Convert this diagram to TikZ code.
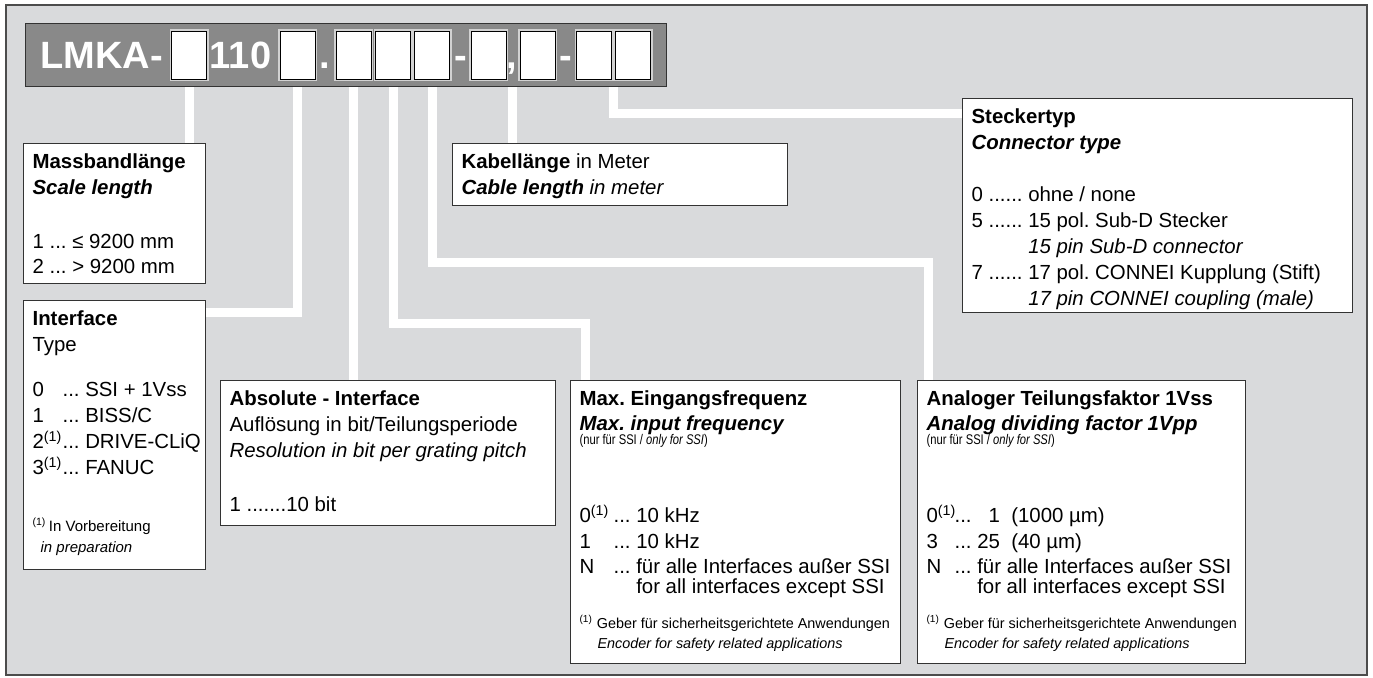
\documentclass[tikz,border=0pt]{standalone}
\usepackage{fontspec}
\setmainfont{Liberation Sans}
\newfontfamily\narrowfont[FakeStretch=0.8]{Liberation Sans}
\usetikzlibrary{calc,backgrounds}
\frenchspacing

\definecolor{panel}{HTML}{D9DADC}
\definecolor{bar}{HTML}{898989}
\definecolor{rim}{HTML}{333333}

\begin{document}
\begin{tikzpicture}[x=0.5pt,y=-0.5pt,
    frame/.style={draw=black!70,fill=panel,line width=0.8pt},
    headbar/.style={draw=rim,fill=bar,line width=0.6pt,inner sep=0pt,anchor=north west},
    digit/.style={draw=black,fill=white,line width=0.5pt,inner sep=0pt,
      minimum width=17.5pt,minimum height=24pt,preaction={draw=gray!35,line width=2pt}},
    code/.style={text=white,font=\fontsize{19}{23}\selectfont\bfseries,inner sep=0pt,anchor=base},
    infobox/.style={draw=rim,fill=white,line width=0.6pt,anchor=north west,
      inner xsep=4.5pt,inner ysep=5pt,font=\fontsize{10.2}{13}\selectfont},
    wire/.style={draw=white,line width=4.5pt}]
  \useasboundingbox (0,0) rectangle (1373,677);

  \node[headbar,minimum width=320.75pt,minimum height=31.5pt] (head) at (24.5,23) {};
  \foreach \n/\x in {1/189,2/297.5,3/353.5,4/393,5/432,6/488.5,7/537.5,8/594,9/633}
    \node[digit] (box\n) at (\x,55) {};
  \node[code,anchor=base west] (lmka) at (40,68) {LMKA-};
  \node[code] (num) at (240.5,68) {110};
  \node[code] (dot) at (324.5,68) {.};
  \node[code] (dash1) at (460.5,68) {-};
  \node[code] (comma) at (512,68) {,};
  \node[code] (dash2) at (565.5,68) {-};
  \coordinate (pin) at ($(box8.south)!.5!(box9.south)$);

  \node[infobox] (scale) at (23,143) {\parbox[t][60pt][t]{82pt}{\raggedright
    \textbf{Massbandlänge}\\
    \textbf{\textit{Scale length}}\\[14pt]
    1 ... ≤ 9200 mm\\[-0.5pt]
    2 ... > 9200 mm}};

  \node[infobox] (iface) at (23,300) {\parbox[t][124.5pt][t]{82pt}{\raggedright
    \textbf{Interface}\\
    Type\\[9.5pt]
    \makebox[15pt][l]{0}\mbox{... SSI + 1Vss}\\
    \makebox[15pt][l]{1}\mbox{... BISS/C}\\
    \makebox[15pt][l]{2\textsuperscript{(1)}}\mbox{... DRIVE-CLiQ}\\
    \makebox[15pt][l]{3\textsuperscript{(1)}}\mbox{... FANUC}\\[15.5pt]
    {\fontsize{7.5}{9}\selectfont\textsuperscript{(1)}\,In Vorbereitung}\\[-2.5pt]
    {\fontsize{7.5}{9}\selectfont\hspace*{4pt}\textit{in preparation}}}};

  \node[infobox] (absint) at (220,380) {\parbox[t][62.5pt][t]{158.5pt}{\raggedright
    \textbf{Absolute - Interface}\\
    Auflösung in bit/Teilungsperiode\\
    \textit{Resolution in bit per grating pitch}\\[14pt]
    1 .......10 bit}};

  \node[infobox] (freq) at (570,380) {\parbox[t][131.5pt][t]{156pt}{\raggedright
    \textbf{Max. Eingangsfrequenz}\\[-0.5pt]
    \textbf{\textit{Max. input frequency}}\\[-6pt]
    {\narrowfont\fontsize{7}{7}\selectfont (nur für SSI / \textit{only for SSI})}\\[26pt]
    \makebox[17pt][l]{0\textsuperscript{(1)}}... 10 kHz\\
    \makebox[17pt][l]{1}... 10 kHz\\[-0.5pt]
    \makebox[17pt][l]{N}\mbox{... für alle Interfaces außer SSI}\\[-3pt]
    \makebox[17pt][l]{}\mbox{\phantom{...} for all interfaces except SSI}\\[4.5pt]
    {\fontsize{7.2}{9}\selectfont\mbox{\textsuperscript{(1)} Geber für sicherheitsgerichtete Anwendungen}}\\[-3pt]
    {\fontsize{7.2}{9}\selectfont\hspace*{9pt}\textit{Encoder for safety related applications}}}};

  \node[infobox] (analog) at (917,380) {\parbox[t][131.5pt][t]{155pt}{\raggedright
    \textbf{Analoger Teilungsfaktor 1Vss}\\[-0.5pt]
    \textbf{\textit{Analog dividing factor 1Vpp}}\\[-6pt]
    {\narrowfont\fontsize{7}{7}\selectfont (nur für SSI / \textit{only for SSI})}\\[26pt]
    \makebox[14pt][l]{0\textsuperscript{(1)}}...\ \phantom{2}1\ \ (1000 µm)\\
    \makebox[14pt][l]{3}...\ 25\ \ (40 µm)\\[-0.5pt]
    \makebox[14pt][l]{N}\mbox{...\ für alle Interfaces außer SSI}\\[-3pt]
    \makebox[14pt][l]{}\mbox{\phantom{...}\ for all interfaces except SSI}\\[4.5pt]
    {\fontsize{7.2}{9}\selectfont\mbox{\textsuperscript{(1)} Geber für sicherheitsgerichtete Anwendungen}}\\[-3pt]
    {\fontsize{7.2}{9}\selectfont\hspace*{9pt}\textit{Encoder for safety related applications}}}};

  \node[infobox] (cable) at (452,143) {\parbox[t][21pt][t]{158.5pt}{\raggedright
    \textbf{Kabellänge} in Meter\\
    \textbf{\textit{Cable length}} \textit{in meter}}};

  \node[infobox] (plug) at (962,98) {\parbox[t][97pt][t]{186pt}{\raggedright
    \textbf{Steckertyp}\\
    \textbf{\textit{Connector type}}\\[13pt]
    0 ...... ohne / none\\
    5 ...... 15 pol. Sub-D Stecker\\
    \phantom{5 ......}\ \textit{15 pin Sub-D connector}\\
    7 ...... 17 pol. CONNEI Kupplung (Stift)\\
    \phantom{7 ......}\ \textit{17 pin CONNEI coupling (male)}}};

  \begin{pgfonlayer}{background}
    \draw[frame] (6,5) rectangle (1367,675);
    \draw[wire] (box1 |- head.south) -- (box1 |- scale.north);
    \draw[wire] (box2 |- head.south) |- ($(iface.north east)+(0,12)$);
    \draw[wire] (box3 |- head.south) -- (box3 |- absint.north);
    \draw[wire] (box4 |- head.south) |- ($(freq.north west)+(15,-57)$) -- ($(freq.north west)+(15,0)$);
    \draw[wire] (box5 |- head.south) |- ($(analog.north west)+(11,-118)$) -- ($(analog.north west)+(11,0)$);
    \draw[wire] (comma |- head.south) -- (comma |- cable.north);
    \draw[wire] (pin |- head.south) |- ($(plug.north west)+(0,15)$);
  \end{pgfonlayer}
\end{tikzpicture}
\end{document}
